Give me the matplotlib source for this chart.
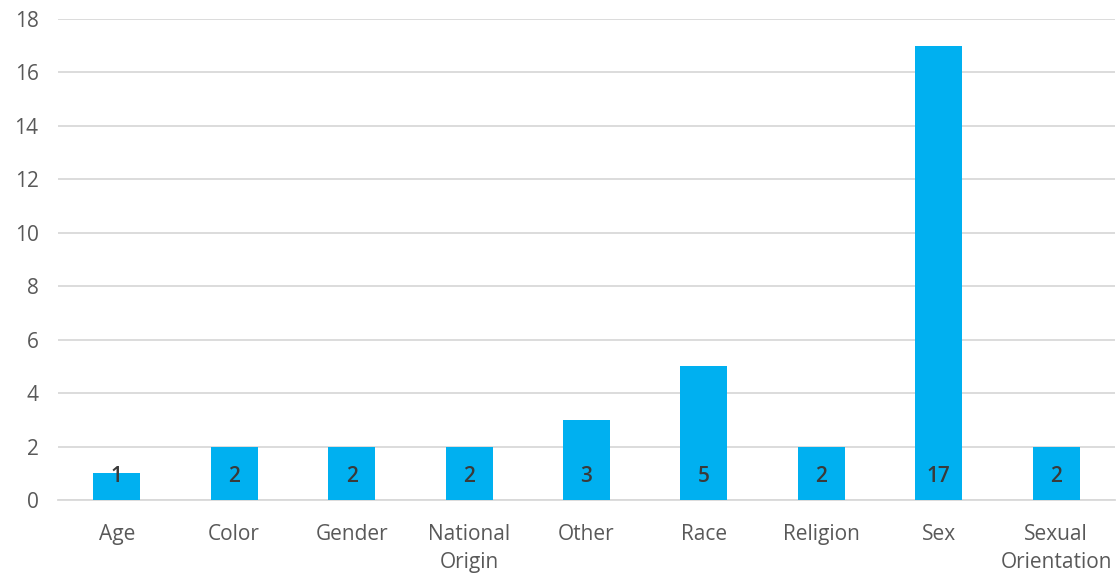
import matplotlib.pyplot as plt
import numpy as np

# categories and counts
categories = ['Age', 'Color', 'Gender', 'National\nOrigin', 'Other', 'Race',
              'Religion', 'Sex', 'Sexual\nOrientation']
counts = [1, 2, 2, 2, 3, 5, 2, 17, 2]
yticks = [0, 2, 4, 6, 8, 10, 12, 14, 16, 18]

plt.rcParams['font.family'] = ['Open Sans', 'DejaVu Sans']

fig = plt.figure(figsize=(11.19, 5.77), dpi=100)
ax = fig.add_axes([58 / 1119, 77 / 577, 1057 / 1119, 481 / 577])

x = np.arange(len(categories))
bars = ax.bar(x, counts, width=0.4, color='#00B0F0', zorder=3)

# data labels inside the base of each bar
for xi, c in zip(x, counts):
    ax.annotate(str(c), xy=(xi, 0), xytext=(0, 17), textcoords='offset points',
                ha='center', va='center', fontsize=15, color='#3a3a3a',
                fontweight='semibold', zorder=4)

ax.set_xlim(-0.5, len(categories) - 0.5)
ax.set_ylim(0, 18)
ax.set_yticks(yticks)
ax.set_xticks(x)
ax.set_xticklabels(categories, fontsize=15, color='#595959', linespacing=1.45)
ax.tick_params(axis='y', labelsize=15, labelcolor='#595959', length=0, pad=14)
ax.tick_params(axis='x', length=0, pad=17)

ax.grid(axis='y', color='#d9d9d9', linewidth=1.3, zorder=0)
for s in ['top', 'right', 'left']:
    ax.spines[s].set_visible(False)
ax.spines['bottom'].set_color('#d9d9d9')
ax.spines['bottom'].set_linewidth(1.3)

fig.savefig('out.png', dpi=100)
